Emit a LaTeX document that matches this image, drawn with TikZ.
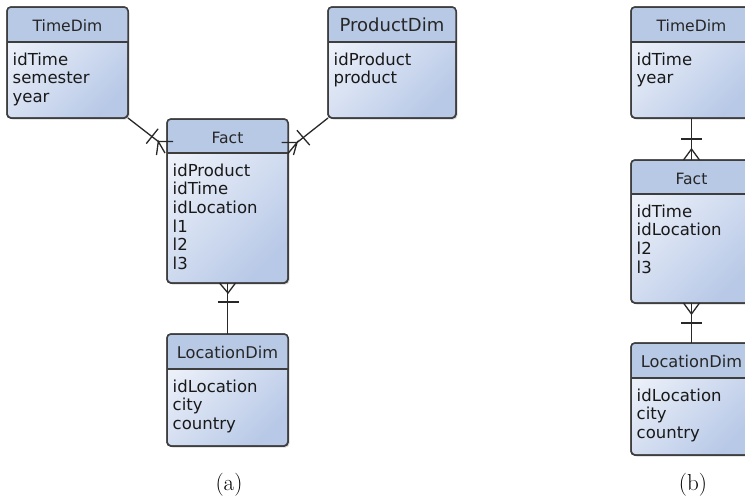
\documentclass[tikz,border=0pt]{standalone}
\usepackage{fontspec}
\newfontfamily\dejavu{DejaVu Sans}
\usetikzlibrary{shadows,calc}
\definecolor{hdr}{RGB}{184,201,229}
\definecolor{bodyA}{RGB}{238,242,250}
\definecolor{bodyB}{RGB}{184,201,231}
\definecolor{edgec}{RGB}{62,62,62}
\definecolor{wirec}{RGB}{40,40,40}
\tikzset{
  erbox/.style={draw=edgec, line width=1.5pt, rounded corners=4pt,
    top color=bodyA, bottom color=bodyB, shading angle=45,
    drop shadow={shadow xshift=1.5pt,shadow yshift=-1.5pt,opacity=0.3},
    inner sep=0pt, outer sep=0pt, anchor=north west},
  erframe/.style={draw=edgec, line width=1.5pt, rounded corners=4pt},
  ertitle/.style={font=\dejavu\fontsize{15.6}{18}\selectfont, text=black!85, anchor=base, inner sep=0pt},
  erattr/.style={font=\dejavu\fontsize{16.5}{18.7}\selectfont, text=black!90, anchor=base west, inner sep=0pt},
  wire/.style={draw=wirec, line width=1.3pt},
  caption/.style={font=\fontsize{23}{27}\selectfont, inner sep=0pt}
}
% name, x, y, width, height, header height, title, attribute list
\newcommand{\erentity}[8]{%
  \node[erbox, minimum width=#4pt, minimum height=#5pt] (#1) at (#2,#3) {};
  \begin{scope}
    \clip[rounded corners=4pt] (#1.north west) rectangle (#1.south east);
    \fill[hdr] (#1.north west) rectangle ($(#1.north east)+(0,-#6pt)$);
  \end{scope}
  \draw[erframe] (#1.north west) rectangle (#1.south east);
  \draw[draw=edgec, line width=1.5pt] ($(#1.north west)+(0,-#6pt)$) -- ($(#1.north east)+(0,-#6pt)$);
  \node[ertitle] (#1-t) at ($(#1.north)+(0,-24pt)$) {#7};
  \foreach \a [count=\i] in {#8} {
    \node[erattr] (#1-a\i) at ($(#1.north west)+(5.5pt,{-(#6+23+(\i-1)*18.7)*1pt})$) {\a};
  }
}
\begin{document}
\begin{tikzpicture}[x=1pt,y=-1pt]
\useasboundingbox (0,0) rectangle (745,496);
\clip (0,0) rectangle (745,496);

% (a)
\erentity{timeA}{7}{7}{121}{111}{35}{TimeDim}{idTime,semester,year}
\erentity{prodA}{328}{7}{128}{111}{35}{\fontsize{18}{20}\selectfont ProductDim}{idProduct,product}
\erentity{factA}{167}{119}{121}{164}{34}{Fact}{idProduct,idTime,idLocation,l1,l2,l3}
\erentity{locA}{167}{334}{121}{112}{35}{\fontsize{16.2}{18}\selectfont LocationDim}{idLocation,city,country}

% (b)
\erentity{timeB}{631}{7}{121}{111}{35}{TimeDim}{idTime,year}
\erentity{factB}{631}{160}{121}{143}{34}{Fact}{idTime,idLocation,l2,l3}
\erentity{locB}{631}{343}{121}{112}{35}{\fontsize{16.2}{18}\selectfont LocationDim}{idLocation,city,country}

% TimeDim -- Fact (a)
\coordinate (tfApex) at (158.3,141.5);
\coordinate (tfEnd) at (173,141.5);
\coordinate (tfC1) at (146.3,143.6);
\coordinate (tfC2) at (158.1,128.8);
\coordinate (tfL1) at (156.5,155);
\coordinate (tfL2) at (165,153);
\draw[wire] (timeA.south east) -- (tfApex) -- (tfEnd);
\draw[wire] (tfC1) -- (tfC2);
\draw[wire] (tfL1) -- (tfApex) -- (tfL2);

% ProductDim -- Fact (a)
\coordinate (pfApex) at (297,142.5);
\coordinate (pfEnd) at (281.5,142.5);
\coordinate (pfC1) at (296.9,130.2);
\coordinate (pfC2) at (309.7,145.1);
\coordinate (pfL1) at (288,153.5);
\coordinate (pfL2) at (293.5,155);
\draw[wire] (prodA.south west) -- (pfApex) -- (pfEnd);
\draw[wire] (pfC1) -- (pfC2);
\draw[wire] (pfL1) -- (pfApex) -- (pfL2);

% Fact -- LocationDim (a)
\coordinate (flApex) at (228,293);
\draw[wire] (factA.south) -- (locA.north);
\draw[wire] ($(factA.south)+(-8pt,0)$) -- (flApex) -- ($(factA.south)+(8pt,0)$);
\draw[wire] (217.5,302) -- (238.5,302);

% TimeDim -- Fact (b)
\coordinate (tbApex) at (691.5,149);
\draw[wire] (timeB.south) -- (factB.north);
\draw[wire] (681,139) -- (702,139);
\draw[wire] ($(factB.north)+(-8pt,0)$) -- (tbApex) -- ($(factB.north)+(8pt,0)$);

% Fact -- LocationDim (b)
\coordinate (blApex) at (691.5,314);
\draw[wire] (factB.south) -- (locB.north);
\draw[wire] ($(factB.south)+(-8pt,0)$) -- (blApex) -- ($(factB.south)+(8pt,0)$);
\draw[wire] (681,323) -- (702,323);

% captions
\node[caption] (capA) at (229,485) {(a)};
\node[caption] (capB) at (693,485) {(b)};
\end{tikzpicture}
\end{document}
